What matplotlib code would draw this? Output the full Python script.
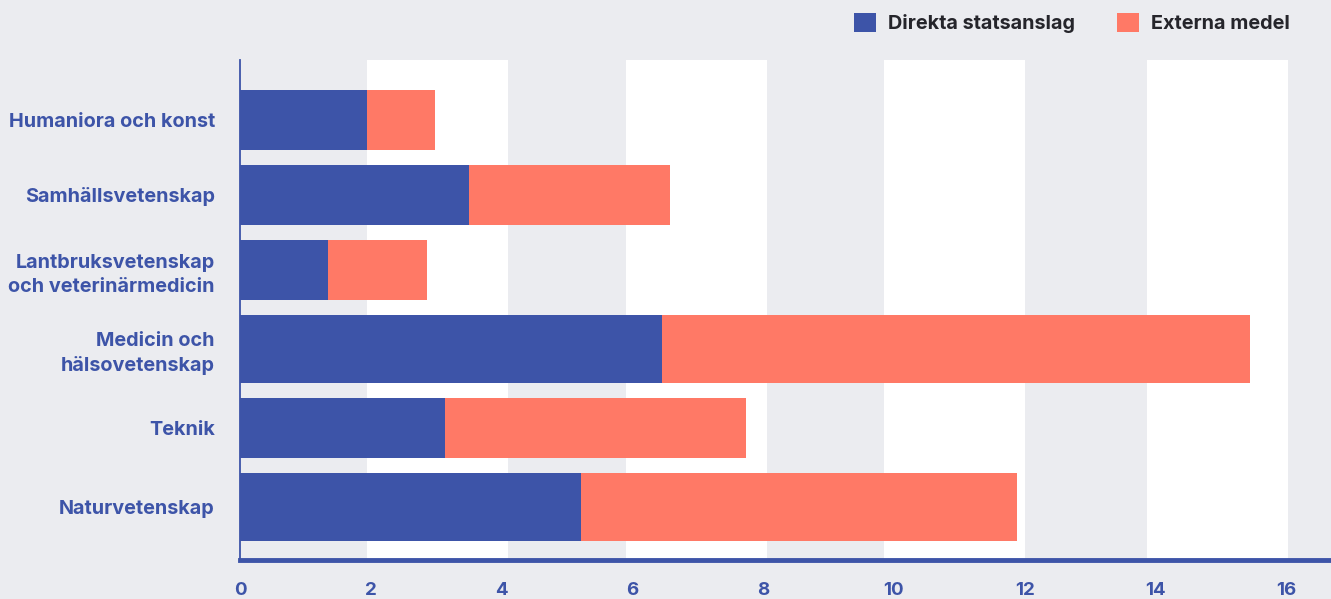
import matplotlib
matplotlib.use("Agg")
import matplotlib.pyplot as plt
from matplotlib.patches import Patch

categories = ["Humaniora och konst", "Samhällsvetenskap",
              "Lantbruksvetenskap\noch veterinärmedicin",
              "Medicin och\nhälsovetenskap", "Teknik", "Naturvetenskap"]
direkta = [1.94, 3.50, 1.35, 6.45, 3.13, 5.21]
externa = [1.04, 3.07, 1.51, 8.99, 4.61, 6.67]
series_names = ["Direkta statsanslag", "Externa medel"]
xticks = [0, 2, 4, 6, 8, 10, 12, 14, 16]
bar_heights = [0.8, 0.8, 0.8, 0.907, 0.8, 0.907]
bar_gap = 0.2
white_bands = [(1.94, 4.10), (5.90, 8.06), (9.85, 12.0), (13.87, 16.02)]

BLUE = "#3d54a8"
ORANGE = "#ff7966"
BG = "#ebecf0"
TXT = "#25252b"

plt.rcParams['font.family'] = ['Inter', 'DejaVu Sans']

# bar centers stacked with a constant gap
ypos = []
cur = 0.0
for h in bar_heights:
    ypos.append(cur + h / 2)
    cur += h + bar_gap

fig = plt.figure(figsize=(13.31, 5.99), dpi=100, facecolor=BG)
ax = fig.add_axes([240/1331, 39/599, 1 - 240/1331, 500/599])
ax.set_facecolor(BG)

for a, b in white_bands:
    ax.axvspan(a, b, color="white", lw=0, zorder=0)

ax.barh(ypos, direkta, height=bar_heights, color=BLUE, zorder=2, label=series_names[0])
ax.barh(ypos, externa, left=direkta, height=bar_heights, color=ORANGE, zorder=2, label=series_names[1])

ax.set_xlim(0, (1331 - 240) / 65.4)
ax.set_ylim(6.267, -0.4)
ax.set_xticks(xticks)
ax.set_xticklabels([str(t) for t in xticks])
ax.set_yticks(ypos)
ax.set_yticklabels(categories, ha="right", linespacing=1.4)
ax.tick_params(axis="x", length=0, colors=BLUE, labelsize=13.5, pad=16)
ax.tick_params(axis="y", length=0, colors=BLUE, labelsize=14.3, pad=18)
for lbl in ax.get_xticklabels() + ax.get_yticklabels():
    lbl.set_fontweight("bold")
    lbl.set_color(BLUE)

for s in ["top", "right"]:
    ax.spines[s].set_visible(False)
ax.spines["left"].set_color(BLUE)
ax.spines["left"].set_linewidth(1.3)
ax.spines["bottom"].set_color(BLUE)
ax.spines["bottom"].set_linewidth(3.5)

handles = [Patch(facecolor=BLUE, edgecolor="none"), Patch(facecolor=ORANGE, edgecolor="none")]
leg = fig.legend(handles, series_names, loc="upper right", bbox_to_anchor=(0.969, 0.978),
                 ncol=2, frameon=False, borderpad=0, borderaxespad=0,
                 handlelength=1.1, handleheight=1.1,
                 handletextpad=0.58, columnspacing=2.15,
                 prop={"weight": "bold", "size": 14.3})
for t in leg.get_texts():
    t.set_color(TXT)

fig.savefig("out.png", dpi=100, facecolor=BG)
